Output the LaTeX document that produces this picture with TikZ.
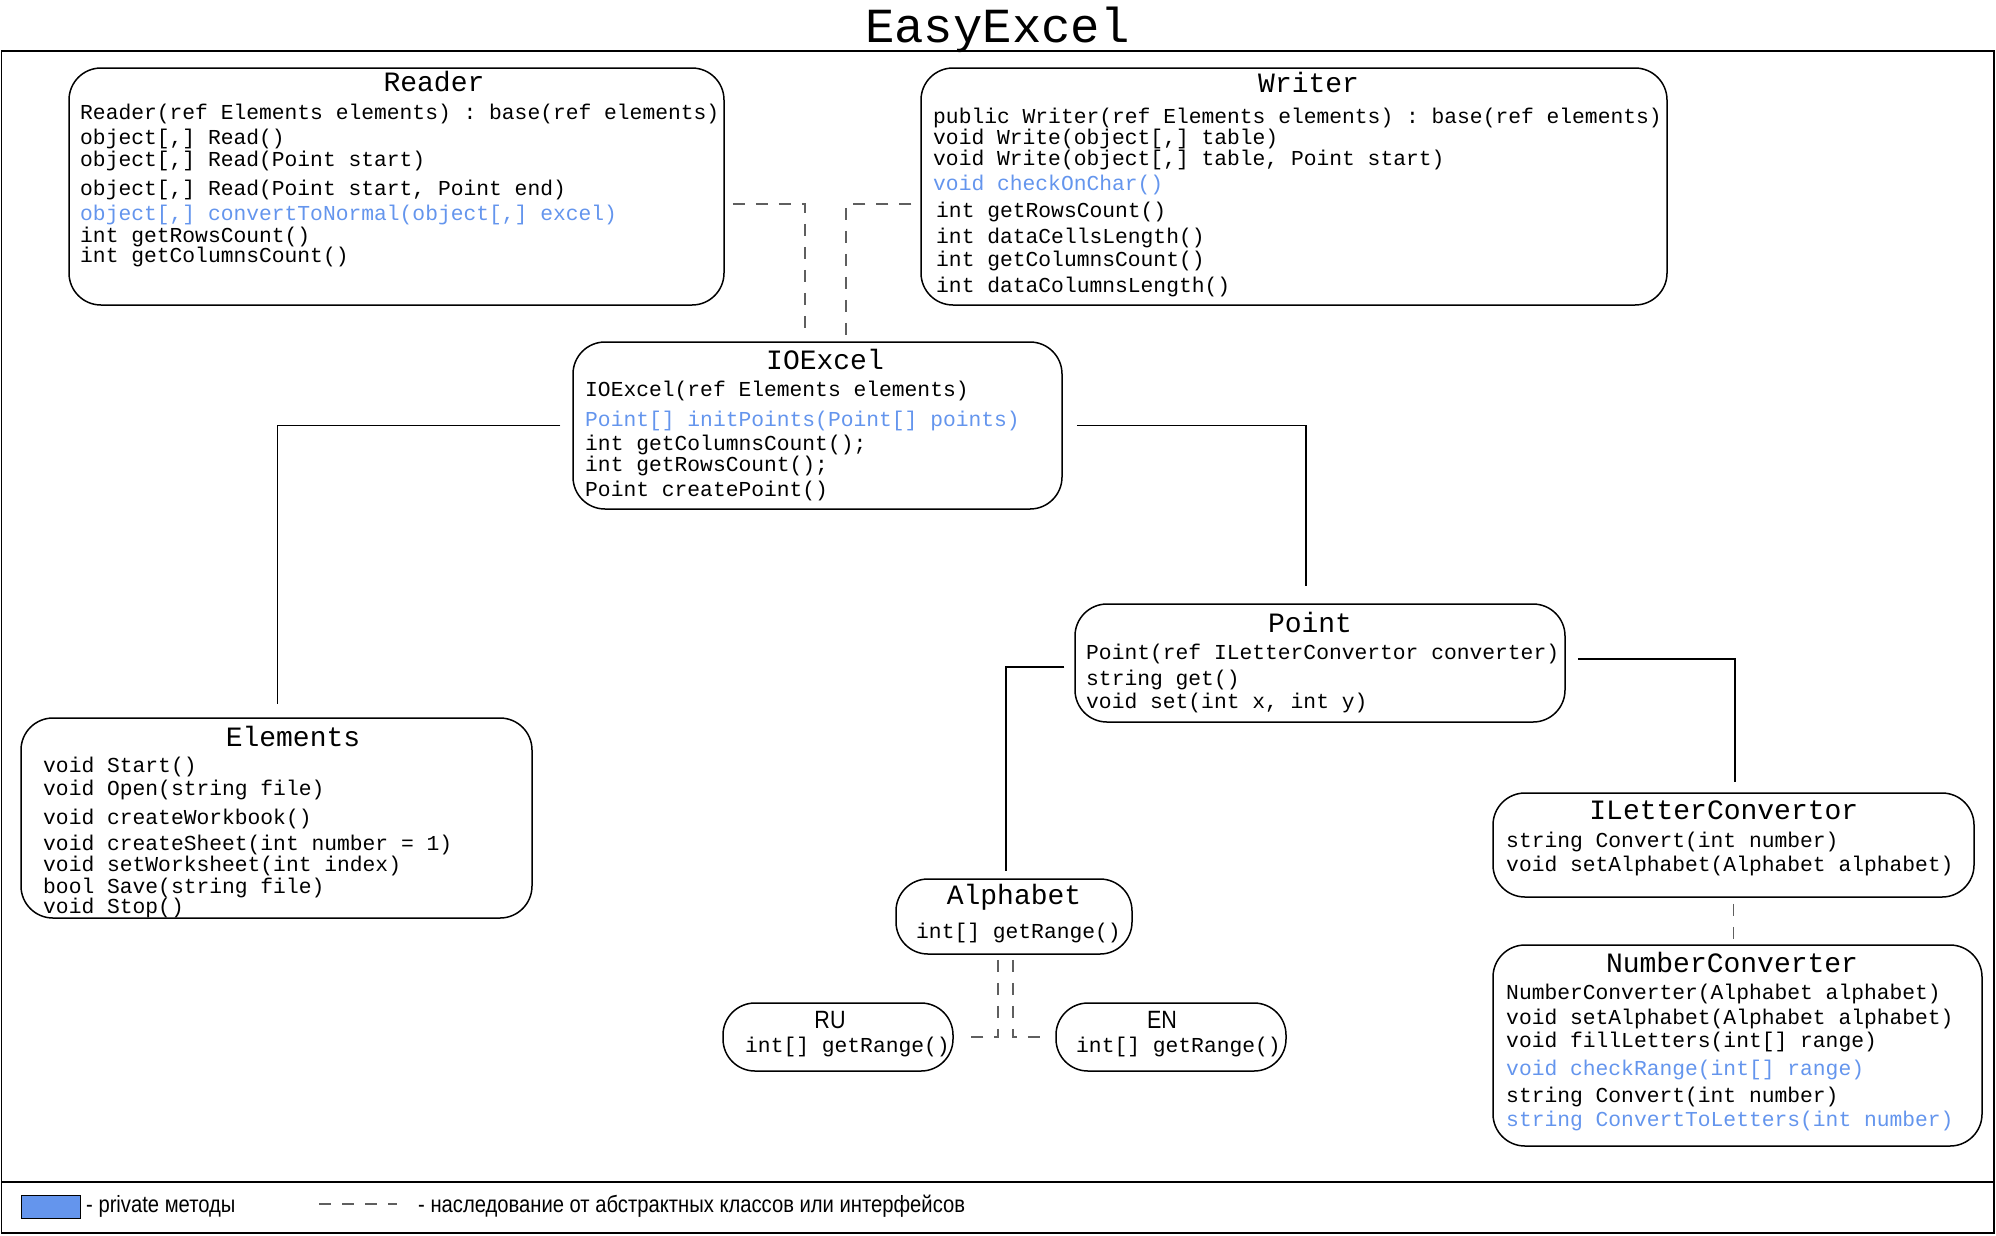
\documentclass[tikz,border=0pt]{standalone}
\usepackage{fontspec}
\setmonofont{Liberation Mono}
\newfontfamily\legendfont[FakeStretch=0.86]{Liberation Sans}
\usepackage{tikz}
\definecolor{privblue}{RGB}{100,149,237}
\definecolor{linkgray}{RGB}{95,95,95}

\begin{document}
\begin{tikzpicture}[x=1pt, y=-1pt,
	every node/.style={font=\ttfamily\fontsize{21.3}{25}\selectfont, inner sep=0pt},
	cls/.style={draw, line width=1.5pt, rounded corners=32pt},
	ttl/.style={font=\ttfamily\fontsize{28}{30}\selectfont},
	ttlsans/.style={font=\legendfont\fontsize{25}{28}\selectfont},
	mth/.style={anchor=west, text height=16pt, text depth=4pt},
	prv/.style={mth, text=privblue},
	lnk/.style={line width=1.1pt},
	inh/.style={draw=linkgray, line width=1.3pt, dash pattern=on 12pt off 11pt}]
	\useasboundingbox (0,0) rectangle (1996,1235);
	\draw[line width=1.8pt] (1.5,51) rectangle (1994,1233);
	\draw[line width=1.8pt] (1.5,1182) -- (1994,1182);
	\node[font=\ttfamily\fontsize{49}{52}\selectfont, anchor=base] (title) at (997.5,42) {EasyExcel};

	\node[cls, minimum width=655, minimum height=237] (reader) at (396.5,186.5) {};
	\node[ttl] (reader-t) at (434,81.7) {Reader};
	\node[mth] (reader-1) at (80,113.3) {Reader(ref Elements elements) : base(ref elements)};
	\node[mth] (reader-2) at (80,138.3) {object[,] Read()};
	\node[mth] (reader-3) at (80,160.7) {object[,] Read(Point start)};
	\node[mth] (reader-4) at (80,189) {object[,] Read(Point start, Point end)};
	\node[prv] (reader-5) at (80,214.3) {object[,] convertToNormal(object[,] excel)};
	\node[mth] (reader-6) at (80,236.7) {int getRowsCount()};
	\node[mth] (reader-7) at (80,256.7) {int getColumnsCount()};

	\node[cls, minimum width=746, minimum height=237] (writer) at (1294,186.5) {};
	\node[ttl] (writer-t) at (1308.6,82) {Writer};
	\node[mth] (writer-1) at (933,117.3) {public Writer(ref Elements elements) : base(ref elements)};
	\node[mth] (writer-2) at (933,138.3) {void Write(object[,] table)};
	\node[mth] (writer-3) at (933,159.3) {void Write(object[,] table, Point start)};
	\node[prv] (writer-4) at (933,184.3) {void checkOnChar()};
	\node[mth] (writer-5) at (936,211.7) {int getRowsCount()};
	\node[mth] (writer-6) at (936,237.3) {int dataCellsLength()};
	\node[mth] (writer-7) at (936,260) {int getColumnsCount()};
	\node[mth] (writer-8) at (936,286) {int dataColumnsLength()};

	\node[cls, minimum width=489, minimum height=167] (ioexcel) at (817.5,425.5) {};
	\node[ttl] (ioexcel-t) at (825,359) {IOExcel};
	\node[mth] (ioexcel-1) at (585,390) {IOExcel(ref Elements elements)};
	\node[prv] (ioexcel-2) at (585,420) {Point[] initPoints(Point[] points)};
	\node[mth] (ioexcel-3) at (585,444) {int getColumnsCount();};
	\node[mth] (ioexcel-4) at (585,465.7) {int getRowsCount();};
	\node[mth] (ioexcel-5) at (585,490.7) {Point createPoint()};

	\node[cls, minimum width=511, minimum height=200] (elements) at (276.5,818) {};
	\node[ttl] (elements-t) at (293,736.5) {Elements};
	\node[mth] (elements-1) at (43,766.7) {void Start()};
	\node[mth] (elements-2) at (43,789.3) {void Open(string file)};
	\node[mth] (elements-3) at (43,818.3) {void createWorkbook()};
	\node[mth] (elements-4) at (43,844) {void createSheet(int number = 1)};
	\node[mth] (elements-5) at (43,865) {void setWorksheet(int index)};
	\node[mth] (elements-6) at (43,887.7) {bool Save(string file)};
	\node[mth] (elements-7) at (43,907) {void Stop()};

	\node[cls, minimum width=490, minimum height=118] (point) at (1320,663) {};
	\node[ttl] (point-t) at (1310,622.7) {Point};
	\node[mth] (point-1) at (1086,653) {Point(ref ILetterConvertor converter)};
	\node[mth] (point-2) at (1086,679) {string get()};
	\node[mth] (point-3) at (1086,702) {void set(int x, int y)};

	\node[cls, minimum width=481, minimum height=104] (letterconv) at (1733.5,845) {};
	\node[ttl] (letterconv-t) at (1723.8,810) {ILetterConvertor};
	\node[mth] (letterconv-1) at (1506,841) {string Convert(int number)};
	\node[mth] (letterconv-2) at (1506,865.7) {void setAlphabet(Alphabet alphabet)};

	\node[cls, minimum width=489, minimum height=201] (numconv) at (1737.5,1045.5) {};
	\node[ttl] (numconv-t) at (1732,962.7) {NumberConverter};
	\node[mth] (numconv-1) at (1506,993.3) {NumberConverter(Alphabet alphabet)};
	\node[mth] (numconv-2) at (1506,1018.3) {void setAlphabet(Alphabet alphabet)};
	\node[mth] (numconv-3) at (1506,1041.7) {void fillLetters(int[] range)};
	\node[prv] (numconv-4) at (1506,1069.3) {void checkRange(int[] range)};
	\node[mth] (numconv-5) at (1506,1096) {string Convert(int number)};
	\node[prv] (numconv-6) at (1506,1120.7) {string ConvertToLetters(int number)};

	\node[cls, minimum width=236, minimum height=75] (alphabet) at (1014,916.5) {};
	\node[ttl] (alphabet-t) at (1014,897) {Alphabet};
	\node[mth] (alphabet-1) at (916,932.7) {int[] getRange()};

	\node[cls, minimum width=230, minimum height=68] (ru) at (838,1037) {};
	\node[ttlsans] (ru-t) at (830,1020) {RU};
	\node[mth] (ru-1) at (745,1046.7) {int[] getRange()};

	\node[cls, minimum width=230, minimum height=68] (en) at (1171,1037) {};
	\node[ttlsans] (en-t) at (1162,1020) {EN};
	\node[mth] (en-1) at (1076,1046.7) {int[] getRange()};

	\draw[inh, shorten <=8pt, shorten >=6pt] ([shift={(0,17.5)}]reader.east) -| ([shift={(-12.5,0)}]ioexcel.north);
	\draw[inh, shorten <=9pt, shorten >=6pt] ([shift={(0,17.5)}]writer.west) -| ([shift={(28.5,0)}]ioexcel.north);
	\draw[lnk, shorten <=12pt, shorten >=13pt] (ioexcel.west) -| ([shift={(1,0)}]elements.north);
	\draw[lnk, shorten <=14pt, shorten >=17pt] (ioexcel.east) -| ([shift={(-14,0)}]point.north);
	\draw[lnk, shorten <=10pt, shorten >=7pt] ([shift={(0,4)}]point.west) -| ([shift={(-8,0)}]alphabet.north);
	\draw[lnk, shorten <=12pt, shorten >=10pt] ([shift={(0,-4)}]point.east) -| ([shift={(1.5,0)}]letterconv.north);
	\draw[inh, shorten <=6pt, shorten >=5pt] (letterconv.south) -- (letterconv.south |- numconv.north);
	\draw[inh, shorten <=5pt, shorten >=16pt] ([shift={(-16,0)}]alphabet.south) |- (ru.east);
	\draw[inh, shorten <=5pt, shorten >=12pt] ([shift={(-1,0)}]alphabet.south) |- (en.west);

	\draw[fill=privblue, line width=0.8pt] (21,1195) rectangle (80,1218);
	\node[anchor=west, font=\legendfont\fontsize{23.5}{26}\selectfont] (privleg) at (86,1206.5) {- private методы};
	\draw[inh] (319,1204) -- (397,1204);
	\node[anchor=west, font=\legendfont\fontsize{23.5}{26}\selectfont] (inhleg) at (418,1206.5) {- наследование от абстрактных классов или интерфейсов};
\end{tikzpicture}
\end{document}
